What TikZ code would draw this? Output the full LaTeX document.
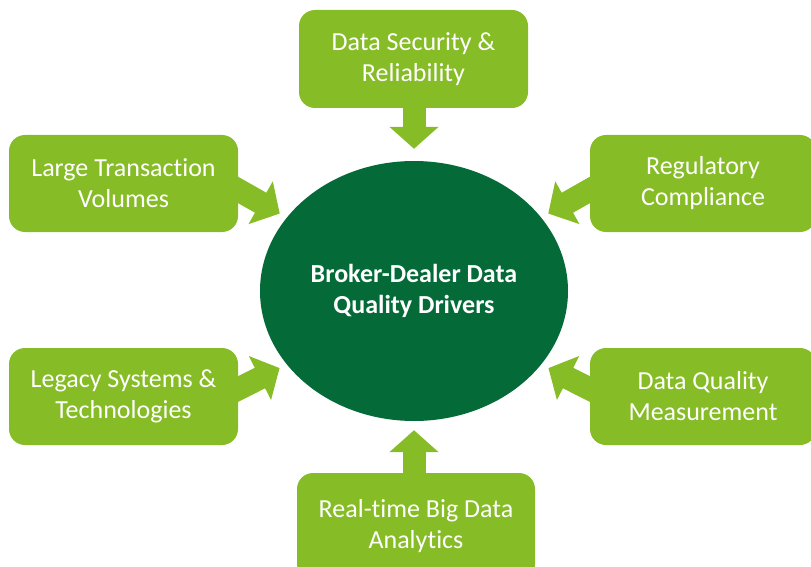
\documentclass[tikz,border=0pt]{standalone}
\usepackage{fontspec}
\setmainfont{Carlito}[Ligatures=NoCommon]
\usetikzlibrary{arrows.meta,shapes.geometric}
\definecolor{leafgreen}{HTML}{86BC25}
\definecolor{hubgreen}{HTML}{046A38}
\pgfdeclarelayer{back}
\pgfsetlayers{back,main}

\begin{document}
\begin{tikzpicture}[x=1pt,y=-1pt]
\tikzstyle{driver}=[fill=leafgreen, rounded corners=16pt, minimum width=229pt, minimum height=97pt, text=white, align=center, font=\fontsize{26}{31}\selectfont]
\tikzstyle{hub}=[fill=hubgreen, ellipse, minimum width=308pt, minimum height=260pt, inner sep=0pt, text=white, align=center, font=\bfseries\fontsize{26}{31}\selectfont]
\tikzstyle{blockarrow}=[draw=leafgreen, line width=23pt, -{Triangle[width=48pt,length=22pt]}, shorten <=-10pt]

\useasboundingbox (0,0) rectangle (811,567);

\draw (414,291) node[hub] (hub) {Broker-Dealer Data\\Quality Drivers};
\draw (413.5,59) node[driver, minimum height=98pt] (security) {Data Security \&\\Reliability};
\draw (123.5,183.5) node[driver] (volumes) {Large Transaction\\Volumes};
\draw (703,183.5) node[driver, minimum width=226pt] (compliance) {Regulatory\\Compliance};
\draw (123.5,396.5) node[driver] (legacy) {Legacy Systems \&\\Technologies};
\draw (703,396.5) node[driver, minimum width=226pt] (measurement) {Data Quality\\Measurement};
\draw (416,526.5) node[driver, minimum width=238pt, minimum height=107pt] (analytics) {Real-time Big Data\\Analytics};

\begin{pgfonlayer}{back}
\draw (hub.north |- security.south) edge[blockarrow, shorten >=12pt] (hub.north);
\draw (hub.south |- analytics.north) edge[blockarrow, shorten >=9pt] (hub.south);
\draw ([yshift=-6.5pt]volumes.east) edge[blockarrow, shorten >=8pt] (hub.150);
\draw ([yshift=7.5pt]legacy.east) edge[blockarrow, shorten >=8pt] (hub.210);
\draw ([yshift=-6.5pt]compliance.west) edge[blockarrow, shorten >=8pt] (hub.30);
\draw ([yshift=7.5pt]measurement.west) edge[blockarrow, shorten >=8pt] (hub.330);
\end{pgfonlayer}
\end{tikzpicture}
\end{document}
